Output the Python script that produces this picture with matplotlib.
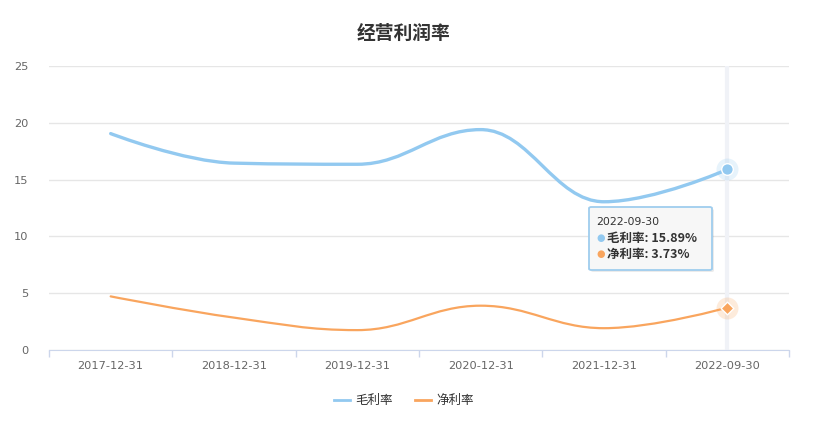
import matplotlib
matplotlib.use("Agg")
import matplotlib.pyplot as plt
from matplotlib.patches import FancyBboxPatch
from matplotlib.path import Path
from matplotlib.patches import PathPatch
import numpy as np

plt.rcParams['font.family'] = ['Noto Sans CJK SC', 'DejaVu Sans']

categories = ["2017-12-31", "2018-12-31", "2019-12-31", "2020-12-31", "2021-12-31", "2022-09-30"]
gross_margin = [19.05, 16.45, 16.35, 19.40, 13.05, 15.89]
net_margin = [4.72, 2.85, 1.75, 3.90, 1.92, 3.73]
series_names = ["毛利率", "净利率"]
colors = ["#92c9f0", "#f9a55e"]
y_ticks = [0, 5, 10, 15, 20, 25]


def spline_path(xs, ys, smoothing=1.5):
    # Highcharts-style spline control points
    denom = smoothing + 1
    n = len(xs)
    left = [None] * n
    right = [None] * n
    for i in range(1, n - 1):
        lx, ly = xs[i - 1], ys[i - 1]
        px, py = xs[i], ys[i]
        nx, ny = xs[i + 1], ys[i + 1]
        lcx = (smoothing * px + lx) / denom
        lcy = (smoothing * py + ly) / denom
        rcx = (smoothing * px + nx) / denom
        rcy = (smoothing * py + ny) / denom
        if rcx != lcx:
            corr = (rcy - lcy) * (rcx - px) / (rcx - lcx) + py - rcy
            lcy += corr
            rcy += corr
        if lcy > ly and lcy > py:
            lcy = max(ly, py)
            rcy = 2 * py - lcy
        elif lcy < ly and lcy < py:
            lcy = min(ly, py)
            rcy = 2 * py - lcy
        if rcy > ny and rcy > py:
            rcy = max(ny, py)
            lcy = 2 * py - rcy
        elif rcy < ny and rcy < py:
            rcy = min(ny, py)
            lcy = 2 * py - rcy
        left[i] = (lcx, lcy)
        right[i] = (rcx, rcy)
    verts = [(xs[0], ys[0])]
    codes = [Path.MOVETO]
    for i in range(1, n):
        c1 = right[i - 1] or (xs[i - 1], ys[i - 1])
        c2 = left[i] or (xs[i], ys[i])
        verts += [c1, c2, (xs[i], ys[i])]
        codes += [Path.CURVE4] * 3
    return Path(verts, codes)


fig = plt.figure(figsize=(8.18, 4.24), dpi=100)
W, H = 818, 424
ax = fig.add_axes([49 / W, (H - 350) / H, 740 / W, 284 / H])

x = np.arange(len(categories))
ax.set_xlim(-0.5, len(categories) - 0.5)
ax.set_ylim(0, 25)

# crosshair on last category
ax.axvline(x[-1], color="#f0f2f7", linewidth=3, zorder=1)

for vals, col, lw in [(gross_margin, colors[0], 2.4), (net_margin, colors[1], 1.6)]:
    p = spline_path(list(x), vals)
    ax.add_patch(PathPatch(p, facecolor="none", edgecolor=col, linewidth=lw,
                           capstyle="round", zorder=3))

# hover markers
ax.scatter([x[-1]], [gross_margin[-1]], s=250, color=colors[0], alpha=0.22,
           linewidths=0, zorder=4)
ax.scatter([x[-1]], [gross_margin[-1]], s=70, color=colors[0], edgecolor="white",
           linewidths=1, zorder=5)
ax.scatter([x[-1]], [net_margin[-1]], s=250, color=colors[1], alpha=0.22,
           linewidths=0, zorder=4)
ax.scatter([x[-1]], [net_margin[-1]], s=42, marker="D", color=colors[1],
           edgecolor="white", linewidths=1, zorder=5)

ax.set_yticks(y_ticks)
ax.set_xticks(x)
ax.set_xticklabels(categories)
ax.set_xticks(np.arange(-0.5, len(categories)), minor=True)
ax.grid(axis="y", color="#e6e6e6", linewidth=1)
ax.set_axisbelow(True)
for s in ["top", "right", "left"]:
    ax.spines[s].set_visible(False)
ax.spines["bottom"].set_color("#ccd6eb")
ax.tick_params(axis="y", length=0, labelcolor="#666666", pad=15)
ax.tick_params(axis="x", which="major", length=0, labelcolor="#666666", pad=8)
ax.tick_params(axis="x", which="minor", length=5, color="#ccd6eb", width=1)
for lab in ax.get_yticklabels() + ax.get_xticklabels():
    lab.set_fontfamily(["DejaVu Sans"])
    lab.set_fontsize(8.2)

fig.text(404 / W, 1 - 33 / H, "经营利润率", ha="center", va="center",
         fontsize=13.5, fontweight="bold", color="#333333")

# tooltip
tx0, ty0, tw, th = 589, 207, 123, 63
shadow = FancyBboxPatch(((tx0 + 2) / W, 1 - (ty0 + th + 2) / H), tw / W, th / H,
                        boxstyle="round,pad=0,rounding_size=0.003",
                        transform=fig.transFigure, facecolor="#000000", alpha=0.08,
                        edgecolor="none", zorder=9)
fig.patches.append(shadow)
box = FancyBboxPatch((tx0 / W, 1 - (ty0 + th) / H), tw / W, th / H,
                     boxstyle="round,pad=0,rounding_size=0.003",
                     transform=fig.transFigure, facecolor="#f7f7f7",
                     edgecolor="#9fcdee", linewidth=1.3, zorder=10)
fig.patches.append(box)
fig.text(596 / W, 1 - 222 / H, categories[-1], fontsize=7.8, color="#333333",
         va="center", family=["DejaVu Sans"], zorder=11)
for row, (name, val, col) in enumerate(zip(series_names,
                                           [gross_margin[-1], net_margin[-1]], colors)):
    yy = 1 - (238 + row * 16) / H
    fig.text(596 / W, yy, "●", fontsize=7, color=col, va="center", ha="left",
             family=["DejaVu Sans"], zorder=11)
    fig.text(607 / W, yy, f"{name}: {val:.2f}%", fontsize=9, color="#333333",
             fontweight="bold", va="center", ha="left", zorder=11)

# legend
for (name, col, x0) in zip(series_names, colors, [334, 415]):
    yy = 1 - 400 / H
    fig.add_artist(plt.Line2D([x0 / W, (x0 + 16) / W], [yy, yy], color=col,
                              linewidth=2, transform=fig.transFigure))
    fig.text((x0 + 21) / W, yy, name, fontsize=9, color="#333333", va="center",
             ha="left")

fig.savefig("out.png", dpi=100)
